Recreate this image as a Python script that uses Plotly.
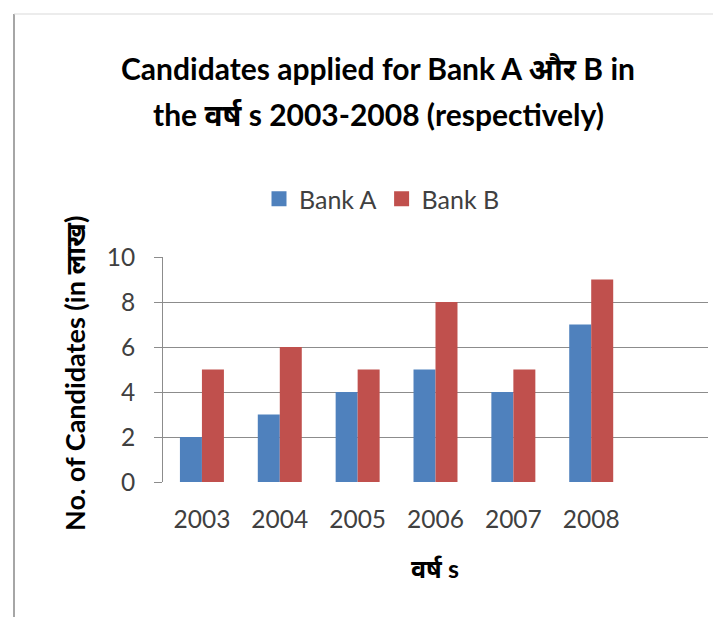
import plotly.graph_objects as go

years = ["2003", "2004", "2005", "2006", "2007", "2008"]
bank_a = [2, 3, 4, 5, 4, 7]
bank_b = [5, 6, 5, 8, 5, 9]
y_ticks = [0, 2, 4, 6, 8, 10]

W, H = 721, 617
L, R, T, B = 155, 21, 249, 143
pw = W - L - R
ph = H - T - B

FONT = "Lato, 'Noto Sans', sans-serif"
TXT = "#404040"
BLUE = "#4F81BD"
RED = "#C0504D"

idx = list(range(len(years)))

fig = go.Figure()
fig.add_trace(go.Bar(x=idx, y=bank_a, name="Bank A", showlegend=False,
                     marker=dict(color=BLUE, line=dict(width=0))))
fig.add_trace(go.Bar(x=idx, y=bank_b, name="Bank B", showlegend=False,
                     marker=dict(color=RED, line=dict(width=0))))
# legend entries with larger square swatches
fig.add_trace(go.Scatter(x=[None], y=[None], mode="markers", name="Bank A",
                         marker=dict(symbol="square", size=15, color=BLUE)))
fig.add_trace(go.Scatter(x=[None], y=[None], mode="markers", name="Bank B",
                         marker=dict(symbol="square", size=15, color=RED)))


def px_to_paper_x(px):
    return (px - L) / pw


def py_to_paper_y(py):
    return (H - B - py) / ph


fig.update_layout(
    width=W, height=H,
    margin=dict(l=L, r=R, t=T, b=B, pad=0),
    paper_bgcolor="white", plot_bgcolor="white",
    barmode="group", bargap=0.435, bargroupgap=0,
    font=dict(family=FONT, color=TXT, size=24),
    showlegend=True,
    legend=dict(orientation="h", x=px_to_paper_x(374), xanchor="center",
                y=py_to_paper_y(191), yanchor="middle",
                font=dict(size=25, color=TXT), itemwidth=30, traceorder="normal",
                bgcolor="rgba(0,0,0,0)"),
    xaxis=dict(
        tickmode="array", tickvals=idx, ticktext=years,
        range=[-0.5, 6.5], showgrid=False, zeroline=False,
        showline=False, ticks="", tickfont=dict(size=24.5, color=TXT),
        ticklabelstandoff=20, fixedrange=True,
    ),
    yaxis=dict(
        range=[0, 10], tickvals=y_ticks, showgrid=True, gridcolor="#8c8c8c", gridwidth=1,
        zeroline=False, showline=True, linecolor="#8c8c8c", linewidth=1,
        ticks="outside", ticklen=8, tickcolor="#8c8c8c", tickfont=dict(size=24.5, color=TXT),
        ticklabelstandoff=14, fixedrange=True,
    ),
)

# titles
fig.add_annotation(text="<b>Candidates applied for Bank A और B in</b>", xref="paper", yref="paper",
                   x=px_to_paper_x(370), y=py_to_paper_y(60), xanchor="center", yanchor="middle",
                   showarrow=False, font=dict(size=30, color="black", family=FONT))
fig.add_annotation(text="<b>the वर्ष s 2003-2008 (respectively)</b>", xref="paper", yref="paper",
                   x=px_to_paper_x(370), y=py_to_paper_y(106), xanchor="center", yanchor="middle",
                   showarrow=False, font=dict(size=30, color="black", family=FONT))
fig.add_annotation(text="<b>No. of Candidates (in लाख)</b>", xref="paper", yref="paper",
                   x=px_to_paper_x(66), y=py_to_paper_y(366), xanchor="center", yanchor="middle",
                   textangle=-90, showarrow=False, font=dict(size=27, color="black", family=FONT))
fig.add_annotation(text="<b>वर्ष s</b>", xref="paper", yref="paper",
                   x=px_to_paper_x(427), y=py_to_paper_y(560), xanchor="center", yanchor="middle",
                   showarrow=False, font=dict(size=25, color="black", family=FONT))

# outer frame (left and top edges of the chart border)
fig.add_shape(type="line", xref="paper", yref="paper",
              x0=px_to_paper_x(6), x1=px_to_paper_x(6), y0=py_to_paper_y(6), y1=py_to_paper_y(617),
              line=dict(color="#a6a6a6", width=2))
fig.add_shape(type="line", xref="paper", yref="paper",
              x0=px_to_paper_x(6), x1=px_to_paper_x(721), y0=py_to_paper_y(6), y1=py_to_paper_y(6),
              line=dict(color="#d9d9d9", width=1))

fig.write_html("out.html")
